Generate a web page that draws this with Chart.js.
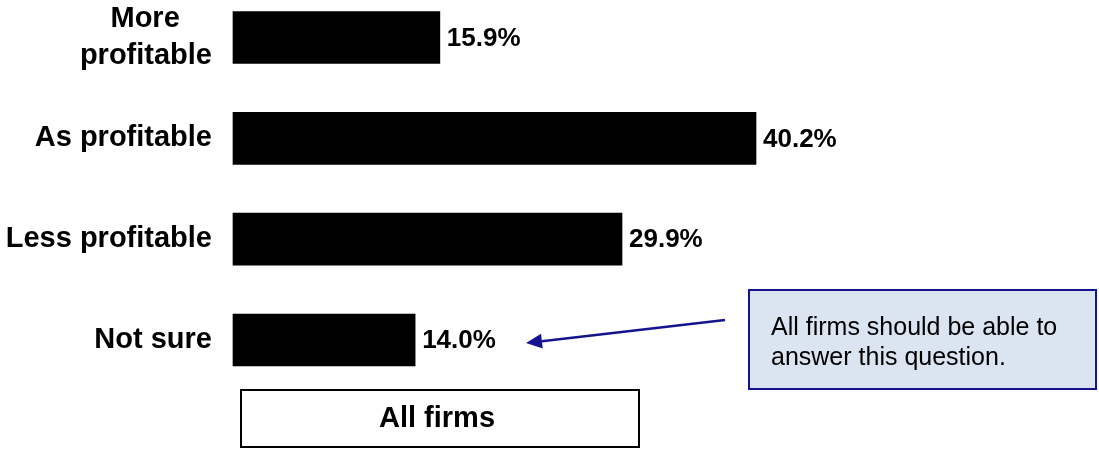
<!DOCTYPE html>
<html>
<head>
<meta charset="utf-8">
<script src="https://cdn.jsdelivr.net/npm/chart.js@4/dist/chart.umd.min.js"></script>
<style>
  html, body { margin: 0; padding: 0; background: #ffffff; }
  #wrap { width: 1099px; height: 449px; }
</style>
</head>
<body>
<div id="wrap"><canvas id="chart" width="1099" height="449"></canvas></div>
<script>
// Survey answers, share of all firms (%)
const categories = ['More profitable', 'As profitable', 'Less profitable', 'Not sure'];
// Axis labels; the first one wraps onto two centred lines
const tickLabels = [['More    ', 'profitable'], 'As profitable', 'Less profitable', 'Not sure'];
const values = [15.9, 40.2, 29.9, 14.0];
const valueLabels = values.map(v => v.toFixed(1) + '%');
const seriesName = 'All firms';
const noteLines = ['All firms should be able to', 'answer this question.'];

const FONT = '"Liberation Sans", Arial, Helvetica, sans-serif';
const NAVY = '#14148f';

// Percentages written just past the end of each bar
const valueLabelPlugin = {
  id: 'valueLabels',
  afterDatasetsDraw(chart) {
    const ctx = chart.ctx;
    const meta = chart.getDatasetMeta(0);
    ctx.save();
    ctx.font = 'bold 26px ' + FONT;
    ctx.fillStyle = '#000000';
    ctx.textAlign = 'left';
    ctx.textBaseline = 'middle';
    meta.data.forEach((bar, i) => {
      ctx.fillText(valueLabels[i], bar.x + 7, bar.y + 1);
    });
    ctx.restore();
  }
};

// Boxed series name under the bars, plus the callout with its arrow
const decorPlugin = {
  id: 'decor',
  afterDraw(chart) {
    const ctx = chart.ctx;
    ctx.save();

    // series name box
    ctx.fillStyle = '#ffffff';
    ctx.fillRect(241, 390, 398, 57);
    ctx.strokeStyle = '#000000';
    ctx.lineWidth = 2;
    ctx.strokeRect(241, 390, 398, 57);
    ctx.fillStyle = '#000000';
    ctx.font = 'bold 29px ' + FONT;
    ctx.textAlign = 'center';
    ctx.textBaseline = 'alphabetic';
    ctx.fillText(seriesName, 437, 427);

    // callout box
    ctx.fillStyle = '#dbe4f1';
    ctx.fillRect(749, 290, 347, 99);
    ctx.strokeStyle = NAVY;
    ctx.lineWidth = 2;
    ctx.strokeRect(749, 290, 347, 99);
    ctx.fillStyle = '#000000';
    ctx.font = '25px ' + FONT;
    ctx.textAlign = 'left';
    ctx.fillText(noteLines[0], 771, 335);
    ctx.fillText(noteLines[1], 771, 365);

    // arrow from the callout toward the last value label
    const x1 = 725, y1 = 320, x2 = 526, y2 = 343;
    const ang = Math.atan2(y2 - y1, x2 - x1);
    const headLen = 16, headHalf = 7.5;
    const bx = x2 - headLen * Math.cos(ang), by = y2 - headLen * Math.sin(ang);
    ctx.strokeStyle = NAVY;
    ctx.lineWidth = 2.5;
    ctx.beginPath();
    ctx.moveTo(x1, y1);
    ctx.lineTo(bx, by);
    ctx.stroke();
    ctx.fillStyle = NAVY;
    ctx.beginPath();
    ctx.moveTo(x2, y2);
    ctx.lineTo(bx + headHalf * Math.sin(ang), by - headHalf * Math.cos(ang));
    ctx.lineTo(bx - headHalf * Math.sin(ang), by + headHalf * Math.cos(ang));
    ctx.closePath();
    ctx.fill();

    ctx.restore();
  }
};

new Chart(document.getElementById('chart'), {
  type: 'bar',
  data: {
    labels: tickLabels,
    datasets: [{
      label: seriesName,
      data: values,
      backgroundColor: '#000000',
      borderWidth: 0,
      barThickness: 52,
      clip: false
    }]
  },
  options: {
    indexAxis: 'y',
    responsive: false,
    animation: false,
    devicePixelRatio: 1,
    layout: { padding: { top: 37.5, bottom: 109, left: 0, right: 215.5 } },
    plugins: {
      legend: { display: false },
      tooltip: { enabled: false },
      title: { display: false }
    },
    scales: {
      x: {
        type: 'linear',
        display: false,
        min: 0,
        max: 50
      },
      y: {
        type: 'category',
        offset: false,
        border: { display: false },
        grid: {
          display: true,
          drawOnChartArea: false,
          drawTicks: true,
          tickLength: 21,
          color: 'rgba(0,0,0,0)'
        },
        ticks: {
          padding: 0,
          color: '#000000',
          font: { family: FONT, size: 29, weight: 'bold', lineHeight: 1.25 }
        },
        afterFit(scale) { scale.width = 233; }
      }
    }
  },
  plugins: [valueLabelPlugin, decorPlugin]
});
</script>
</body>
</html>
